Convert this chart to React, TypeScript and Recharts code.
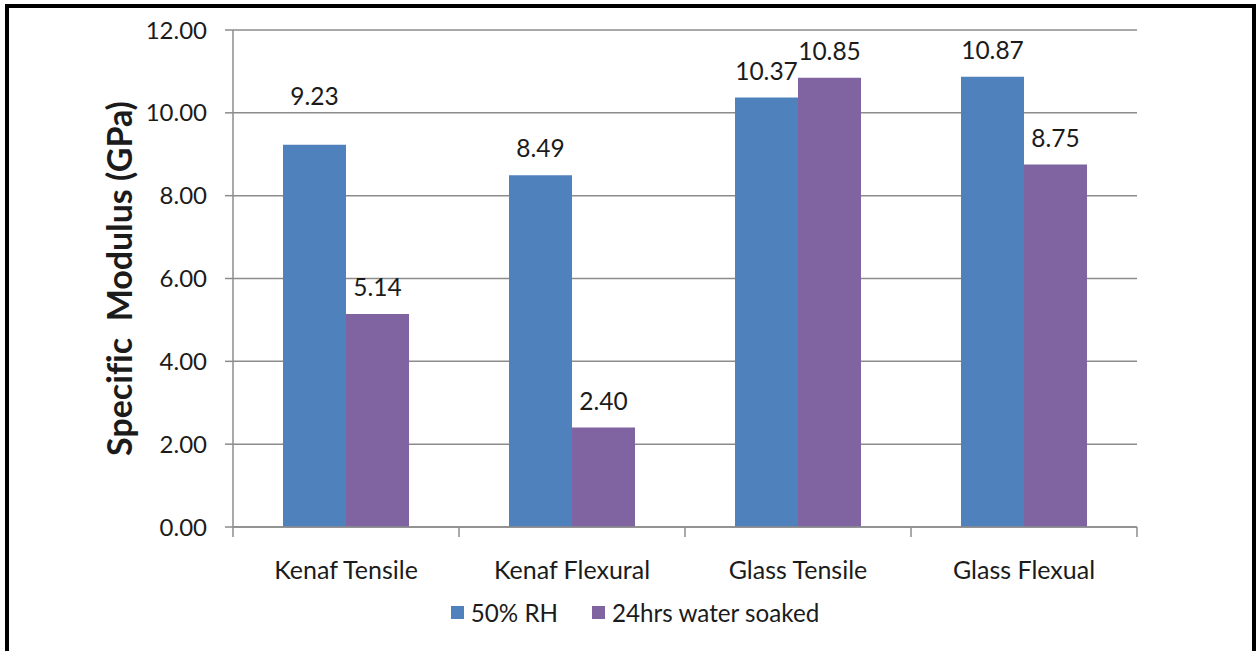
import React from 'react';
import { BarChart, Bar, XAxis, YAxis, CartesianGrid, Legend, LabelList } from 'recharts';

const categories = ['Kenaf Tensile', 'Kenaf Flexural', 'Glass Tensile', 'Glass Flexual'];
const rh50 = [9.23, 8.49, 10.37, 10.87];
const soaked = [5.14, 2.4, 10.85, 8.75];
const yTicks = [0, 2, 4, 6, 8, 10, 12];

const seriesKeys = ['rh50', 'soaked'];
const seriesNames: Record<string, string> = { rh50: '50% RH', soaked: '24hrs water soaked' };
const colors: Record<string, string> = { rh50: '#4F81BD', soaked: '#8064A2' };

const data = categories.map((name, i) => ({ name, rh50: rh50[i], soaked: soaked[i] }));

const FONT = 'Lato, "Open Sans", sans-serif';
const TEXT = '#1b1b1b';
const GRID = '#8c8c8c';

const W = 1257;
const H = 651;
const PLOT_LEFT = 233;
const PLOT_RIGHT = 1137;
const BAND = (PLOT_RIGHT - PLOT_LEFT) / categories.length;

// the first blue label sits a bit higher than the rest
const LABEL_LIFT: Record<string, number> = { 'rh50-0': 22 };

const makeLabel = (key: string) => (props: any) => {
  const { x, y, width, value, index } = props;
  const lift = LABEL_LIFT[`${key}-${index}`] || 0;
  return (
    <text
      x={x + width / 2}
      y={y - 18 - lift}
      textAnchor="middle"
      fontFamily={FONT}
      fontSize={24.5}
      fill={TEXT}
    >
      {Number(value).toFixed(2)}
    </text>
  );
};

const CategoryTick = (props: any) => {
  const { x, y, payload, index } = props;
  const axisY = y;
  return (
    <g>
      <line x1={x - BAND / 2} x2={x - BAND / 2} y1={axisY} y2={axisY + 10} stroke={GRID} strokeWidth={1.5} />
      {index === categories.length - 1 && (
        <line x1={x + BAND / 2} x2={x + BAND / 2} y1={axisY} y2={axisY + 10} stroke={GRID} strokeWidth={1.5} />
      )}
      <text x={x} y={axisY + 52} textAnchor="middle" fontFamily={FONT} fontSize={25} fill={TEXT}>
        {payload.value}
      </text>
    </g>
  );
};

const YTitle = (props: any) => {
  const { viewBox } = props;
  const cy = viewBox.y + viewBox.height / 2;
  const cx = 118;
  return (
    <text
      x={cx}
      y={cy}
      transform={`rotate(-90 ${cx} ${cy})`}
      textAnchor="middle"
      dominantBaseline="central"
      fontFamily={FONT}
      fontWeight={700}
      fontSize={34}
      fill={TEXT}
      style={{ whiteSpace: 'pre', fontVariantLigatures: 'none' }}
    >
      {'Specific  Modulus (GPa)'}
    </text>
  );
};

const LegendContent = (props: any) => {
  const payload = [...(props.payload || [])].sort(
    (a: any, b: any) => seriesKeys.indexOf(a.dataKey) - seriesKeys.indexOf(b.dataKey)
  );
  return (
    <div
      style={{
        height: 30,
        display: 'flex',
        justifyContent: 'center',
        alignItems: 'center',
        fontFamily: FONT,
        fontSize: 24.2,
        color: TEXT,
      }}
    >
      {payload.map((p: any, i: number) => (
        <div key={i} style={{ display: 'flex', alignItems: 'center', marginRight: i === 0 ? 34 : 0 }}>
          <span style={{ width: 13, height: 13, background: p.color, display: 'inline-block', marginRight: 7 }} />
          <span>{p.value}</span>
        </div>
      ))}
    </div>
  );
};

export default function App() {
  return (
    <div style={{ position: 'absolute', left: 0, top: 0, width: W, height: H, overflow: 'hidden', background: '#fff' }}>
      <div
        style={{
          position: 'absolute',
          left: 5,
          top: 4,
          width: 1251,
          height: 720,
          border: '4px solid #000',
          boxSizing: 'border-box',
        }}
      />
      <div style={{ position: 'absolute', left: 0, top: 0 }}>
        <BarChart
          width={W}
          height={H}
          data={data}
          margin={{ top: 30, right: W - PLOT_RIGHT, bottom: 24, left: 0 }}
          barCategoryGap={50}
          barGap={0}
        >
          <CartesianGrid vertical={false} stroke={GRID} strokeWidth={1.5} />
          <XAxis
            dataKey="name"
            height={70}
            axisLine={{ stroke: GRID, strokeWidth: 1.5 }}
            tickLine={false}
            tickSize={0}
            tickMargin={0}
            tick={<CategoryTick />}
            interval={0}
          />
          <YAxis
            width={PLOT_LEFT}
            domain={[0, 12]}
            ticks={yTicks}
            tickFormatter={(v: number) => v.toFixed(2)}
            axisLine={{ stroke: GRID, strokeWidth: 1.5 }}
            tickLine={{ stroke: GRID, strokeWidth: 1.5 }}
            tickSize={8}
            tickMargin={18}
            tick={{ fontFamily: FONT, fontSize: 24, fill: TEXT }}
            label={<YTitle />}
          />
          <Legend
            verticalAlign="bottom"
            align="center"
            wrapperStyle={{ left: 10, width: 1250 }}
            content={<LegendContent />}
          />
          {seriesKeys.map((key) => (
            <Bar key={key} dataKey={key} name={seriesNames[key]} fill={colors[key]} isAnimationActive={false}>
              <LabelList dataKey={key} content={makeLabel(key)} />
            </Bar>
          ))}
        </BarChart>
      </div>
    </div>
  );
}
